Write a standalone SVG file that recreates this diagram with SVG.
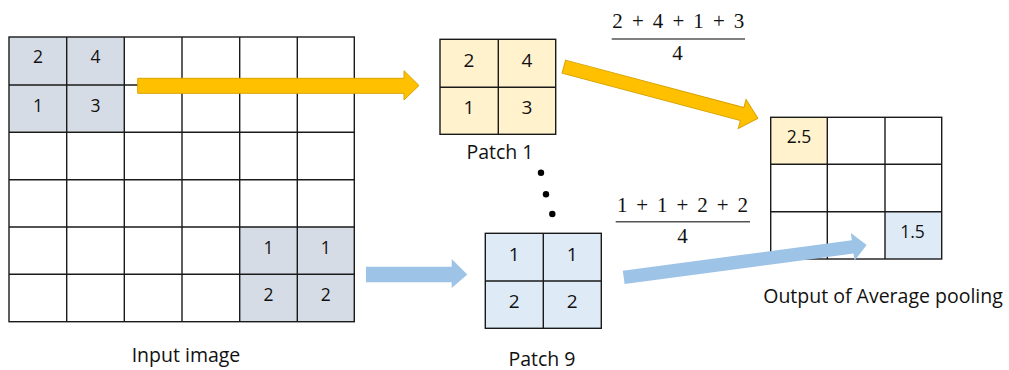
<svg xmlns="http://www.w3.org/2000/svg" width="1009" height="370" viewBox="0 0 1009 370">
<style>
.g{fill:none;stroke:#1a1a1a;stroke-width:1.4}
.t{font-family:"Open Sans","Noto Sans",sans-serif;fill:#111;text-anchor:middle}
.s{font-size:17.5px}
.m{font-size:19px}
.l{font-size:19.5px}
.f{font-family:"Liberation Serif","DejaVu Serif",serif;font-size:21px;fill:#111;text-anchor:middle}
.fl{stroke:#555;stroke-width:1.4}
.y{fill:#FFC000;stroke:#D9A300;stroke-width:1}
.b{fill:#9DC3E6;stroke:none}
</style>
<rect width="1009" height="370" fill="#fff"/>
<g id="input-image">
<rect x="9" y="37" width="115.3" height="94.7" fill="#D6DCE5"/>
<rect x="239.7" y="227" width="114.6" height="94.7" fill="#D6DCE5"/>
<rect class="g" x="9" y="37" width="345.3" height="284.7"/>
<path class="g" d="M66.7 37V321.7M124.3 37V321.7M182 37V321.7M239.7 37V321.7M297.3 37V321.7M9 85H354.3M9 132.3H354.3M9 179.7H354.3M9 227H354.3M9 274.3H354.3"/>
<text class="t s" x="37.9" y="63.3">2</text>
<text class="t s" x="95.5" y="63.3">4</text>
<text class="t s" x="37.9" y="111.7">1</text>
<text class="t s" x="95.5" y="111.7">3</text>
<text class="t s" x="268.5" y="254">1</text>
<text class="t s" x="325.8" y="254">1</text>
<text class="t s" x="268.5" y="300.7">2</text>
<text class="t s" x="325.8" y="300.7">2</text>
<text class="t l" x="186" y="362">Input image</text>
</g>
<g id="patch-1">
<rect x="440" y="39.3" width="115.7" height="95" fill="#FFF2CC"/>
<rect class="g" x="440" y="39.3" width="115.7" height="95"/>
<path class="g" d="M498.3 39.3V134.3M440 87.3H555.7"/>
<text class="t m" x="469" y="66.7">2</text>
<text class="t m" x="527" y="66.7">4</text>
<text class="t m" x="469" y="113.5">1</text>
<text class="t m" x="527" y="113.5">3</text>
<text class="t l" x="500" y="159.3">Patch 1</text>
</g>
<g id="patch-9">
<rect x="485.3" y="233.3" width="116" height="95" fill="#DEEBF7"/>
<rect class="g" x="485.3" y="233.3" width="116" height="95"/>
<path class="g" d="M543.3 233.3V328.3M485.3 281H601.3"/>
<text class="t m" x="514.3" y="260.7">1</text>
<text class="t m" x="572.3" y="260.7">1</text>
<text class="t m" x="514.3" y="308.3">2</text>
<text class="t m" x="572.3" y="308.3">2</text>
<text class="t l" x="542" y="366">Patch 9</text>
</g>
<g id="dots" fill="#000">
<circle cx="541" cy="172.7" r="3.2"/>
<circle cx="546" cy="194.3" r="3.2"/>
<circle cx="552.3" cy="214" r="3.2"/>
</g>
<g id="formula-1">
<text class="f" x="678.3" y="28" textLength="132" lengthAdjust="spacing">2 + 4 + 1 + 3</text>
<line class="fl" x1="611.7" y1="39" x2="745" y2="39"/>
<text class="f" x="677.5" y="60">4</text>
</g>
<g id="formula-2">
<text class="f" x="682.4" y="211.7" textLength="131" lengthAdjust="spacing">1 + 1 + 2 + 2</text>
<line class="fl" x1="615.7" y1="221.7" x2="750" y2="221.7"/>
<text class="f" x="682.5" y="243">4</text>
</g>
<g id="output">
<rect x="770.7" y="117.3" width="56.6" height="47" fill="#FFF2CC"/>
<rect x="885" y="211.7" width="56.7" height="47.3" fill="#DEEBF7"/>
<rect class="g" x="770.7" y="117.3" width="171" height="141.7"/>
<path class="g" d="M827.3 117.3V259M885 117.3V259M770.7 164.3H941.7M770.7 211.7H941.7"/>
<text class="t s" x="799" y="143.3">2.5</text>
<text class="t s" x="912.5" y="238.3">1.5</text>
<text class="t l" x="883" y="303">Output of Average pooling</text>
</g>
<g id="connectors">
<polygon class="y" points="137.7,78.3 404,78.3 404,70.7 419,85.5 404,100 404,93.3 137.7,93.3"/>
<polygon class="y" transform="translate(563.85,66.65) rotate(14.9)" points="0,-6.75 184.5,-6.75 184.5,-15 200.8,0 184.5,15 184.5,6.75 0,6.75"/>
<polygon class="b" points="366,266.7 451.7,266.7 451.7,259 467.3,274.5 451.7,288 451.7,282.3 366,282.3"/>
<polygon class="b" transform="translate(623.7,277.3) rotate(-7.57)" points="0,-6.7 231,-6.7 231,-14 245.1,0 231,14 231,6.7 0,6.7"/>
</g>
</svg>
